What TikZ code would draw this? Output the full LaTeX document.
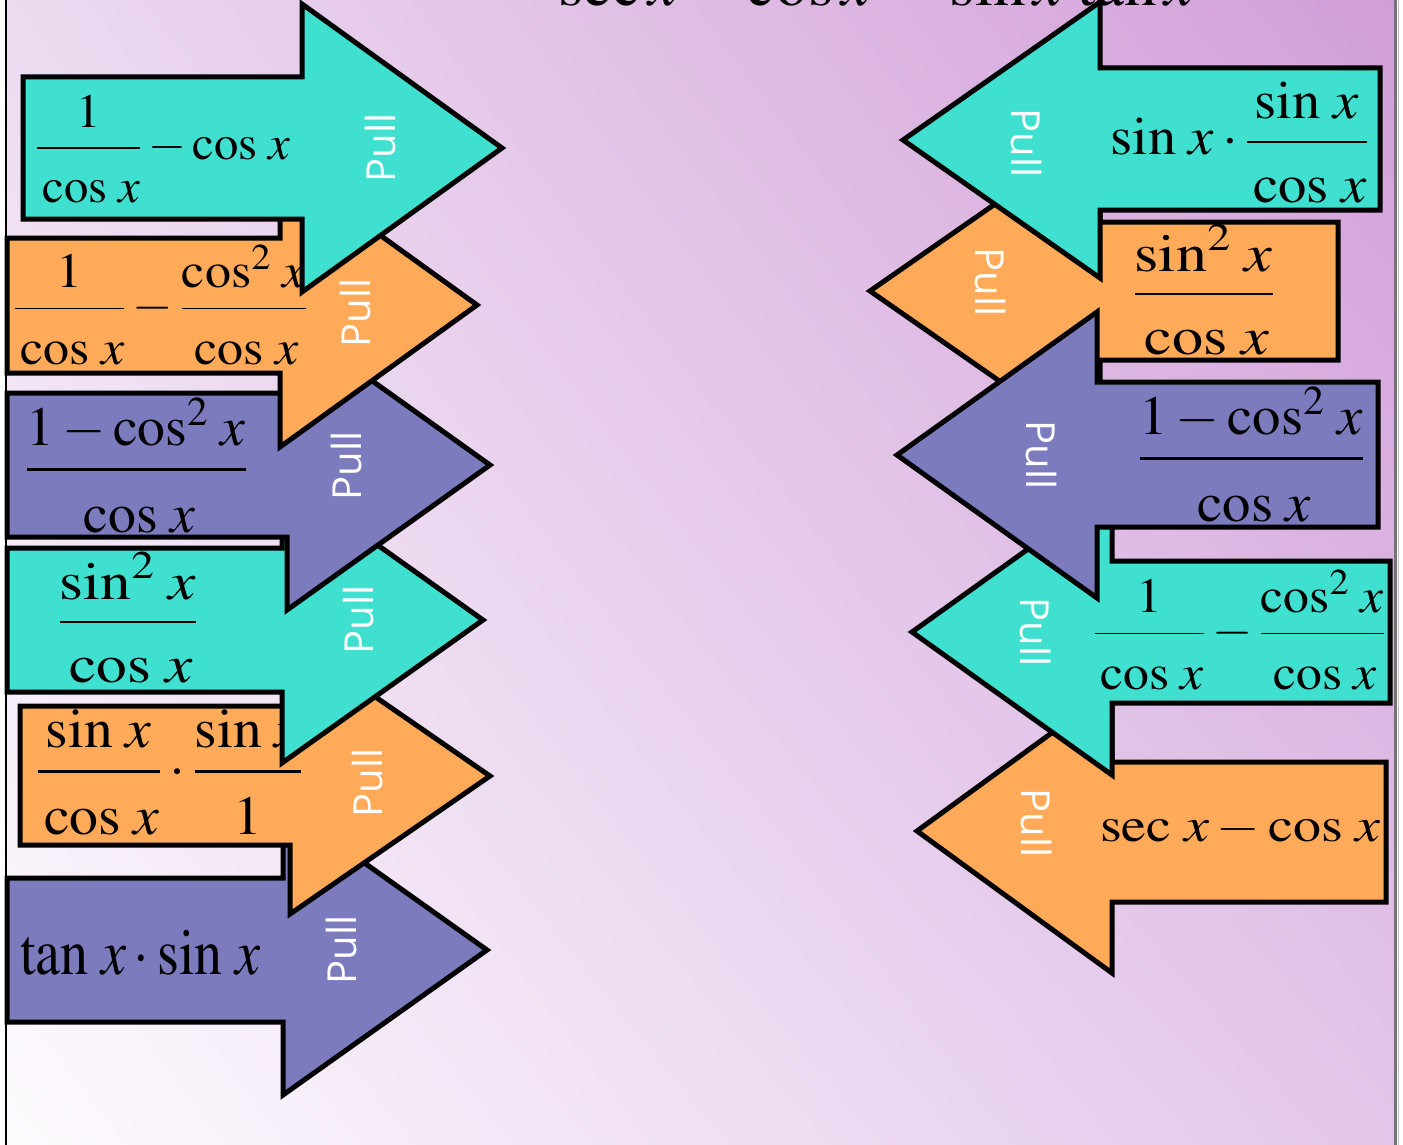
\documentclass[tikz,border=0pt]{standalone}
\usepackage{mathptmx}
\usepackage[no-math]{fontspec}
\usetikzlibrary{shadings}
\newfontfamily\pullfont{Open Sans}

\definecolor{tealfill}{RGB}{64,224,208}
\definecolor{orangefill}{RGB}{255,170,88}
\definecolor{purplefill}{RGB}{123,123,189}
\definecolor{bgUL}{RGB}{236,218,240}
\definecolor{bgUR}{RGB}{210,158,216}
\definecolor{bgLL}{RGB}{253,251,254}
\definecolor{bgLR}{RGB}{226,198,234}

\tikzset{
  arrowshape/.style={draw=black, line width=5pt, line join=miter, miter limit=10},
  pulltext/.style={text=white, font=\pullfont\fontsize{40}{48}\selectfont, inner sep=0pt},
  mathbox/.style={text=black, font=\fontsize{48}{58}\selectfont, inner sep=0pt, anchor=north west},
  titletext/.style={text=black, font=\fontsize{64}{76}\selectfont, inner sep=0pt, anchor=base west},
}

% block arrow: #1 fill, #2 shaft end x, #3 shaft top, #4 shaft bottom,
% #5 neck x, #6 tip x, #7 centre y, #8 half height of the head
\newcommand{\blockarrow}[8]{%
  \filldraw[arrowshape, fill=#1] (#2,#3) -- (#5,#3) -- (#5,{#7-#8}) -- (#6,#7)
    -- (#5,{#7+#8}) -- (#5,#4) -- (#2,#4) -- cycle;}

% formula pieces
\newcommand{\cosx}{\cos\,x}
\newcommand{\sinx}{\sin\,x}
\newcommand{\tanx}{\tan\,x}
\newcommand{\secx}{\sec\,x}
\newcommand{\cossqx}{\cos^{2}\,x}
\newcommand{\sinsqx}{\sin^{2}\,x}
\newcommand{\denstrut}{\rule{0pt}{1em}}
\newcommand{\mfrac}[2]{{\displaystyle\frac{#1}{\denstrut#2}}}
% formula set in display style and fitted to a given width and total height
\newcommand{\fitmath}[3]{\resizebox*{#1pt}{#2pt}{$\displaystyle #3$}}

\begin{document}
\begin{tikzpicture}[x=1pt, y=-1pt]
\useasboundingbox (0,0) rectangle (1403,1145);
\clip (0,0) rectangle (1403,1145);

% page and slide background
\fill[white] (0,0) rectangle (1403,1145);
\shade[upper left=bgUL, upper right=bgUR, lower left=bgLL, lower right=bgLR]
  (6,0) rectangle (1395,1145);
\draw[black, line width=2pt] (6,0) -- (6,1145);
\draw[black!55, line width=2.5pt] (1395.5,0) -- (1395.5,1145);
\draw[black!25, line width=1.5pt] (1398.5,0) -- (1398.5,1145);

% title, mostly above the visible area
\node[titletext] (title) at (558,6) {\resizebox{635pt}{!}{$\sec x-\cos x=\sin x\,\tan x$}};

% ---------- left column (pointing right), lowest first ----------
\blockarrow{purplefill}{7}{878}{1022}{283}{487}{950}{145}
\node[mathbox] (e6) at (20,930) {\fitmath{240}{45}{\tanx\cdot\sinx}};
\node[pulltext, rotate=90] (p6) at (341,950) {Pull};

\blockarrow{orangefill}{20}{706}{845}{290}{490}{776}{138}
\node[mathbox] (e5) at (36,710) {\fitmath{266}{125}{\mfrac{\sinx}{\cosx}\cdot\mfrac{\sinx}{1}}};
\node[pulltext, rotate=90] (p5) at (367,783) {Pull};

\blockarrow{tealfill}{7}{548}{692}{282}{483}{620}{143}
\node[mathbox] (e4) at (58,552) {\fitmath{139}{131}{\mfrac{\sinsqx}{\cosx}}};
\node[pulltext, rotate=90] (p4) at (358,620) {Pull};

\blockarrow{purplefill}{7}{393}{537}{287}{490}{465}{145}
\node[mathbox] (e3) at (25,398) {\fitmath{222}{135}{\mfrac{1-\cossqx}{\cosx}}};
\node[pulltext, rotate=90] (p3) at (346,466) {Pull};

\blockarrow{orangefill}{7}{238}{373}{280}{477}{305}{142}
\node[mathbox] (e2) at (13,245) {\fitmath{294}{120}{\mfrac{1}{\cosx}-\mfrac{\cossqx}{\cosx}}};
\node[pulltext, rotate=90] (p2) at (355,313) {Pull};

\blockarrow{tealfill}{23}{77}{219}{302}{502}{148}{144}
\node[mathbox] (e1) at (36,95) {\fitmath{254}{108}{\mfrac{1}{\cosx}-\cosx}};
\node[pulltext, rotate=90] (p1) at (380,148) {Pull};

% ---------- right column (pointing left) ----------
\blockarrow{orangefill}{1386}{762}{902}{1112}{917}{831}{142}
\node[mathbox] (f5) at (1100,813) {\fitmath{280}{32}{\secx-\cosx}};
\node[pulltext, rotate=-90] (q5) at (1036,823) {Pull};

\blockarrow{tealfill}{1390}{561}{703}{1112}{912}{632}{143}
\node[mathbox] (f4) at (1093,570) {\fitmath{292}{120}{\mfrac{1}{\cosx}-\mfrac{\cossqx}{\cosx}}};
\node[pulltext, rotate=-90] (q4) at (1035,632) {Pull};

\blockarrow{orangefill}{1338}{222}{360}{1100}{870}{291}{160}
\node[mathbox] (f2) at (1133,224) {\fitmath{141}{131}{\mfrac{\sinsqx}{\cosx}}};
\node[pulltext, rotate=-90] (q2) at (990,282) {Pull};

\blockarrow{purplefill}{1378}{382}{527}{1097}{897}{455}{143}
\node[mathbox] (f3) at (1138,387) {\fitmath{226}{135}{\mfrac{1-\cossqx}{\cosx}}};
\node[pulltext, rotate=-90] (q3) at (1041,455) {Pull};

\blockarrow{tealfill}{1380}{68}{210}{1100}{903}{140}{138}
\node[mathbox] (f1) at (1110,82) {\fitmath{258}{121}{\sinx\cdot\mfrac{\sinx}{\cosx}}};
\node[pulltext, rotate=-90] (q1) at (1026,143) {Pull};
\end{tikzpicture}
\end{document}
